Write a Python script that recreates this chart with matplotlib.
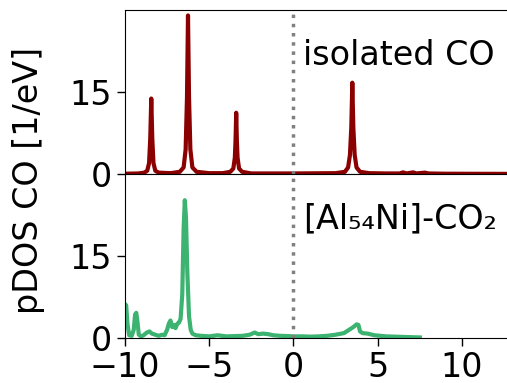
import matplotlib
matplotlib.use("Agg")
import matplotlib.pyplot as plt

# Projected density of states on CO, isolated molecule (energy in eV, pDOS in 1/eV)
iso_energy = [-10.0, -9.2, -8.85, -8.68, -8.57, -8.5, -8.44, -8.38, -8.31, -8.2, -8.0,
              -7.3, -6.75, -6.52, -6.4, -6.32, -6.26, -6.2, -6.12, -6.0, -5.75,
              -5.0, -4.2, -3.75, -3.57, -3.48, -3.44, -3.4, -3.36, -3.32, -3.23, -3.05,
              -2.5, 0.0, 2.5, 3.05, 3.24, 3.35, 3.43, 3.49, 3.55, 3.63, 3.74, 3.95,
              4.5, 5.5, 6.3, 6.5, 6.7, 7.1, 7.3, 7.8, 8.0, 9.0, 13.0]
iso_pdos = [0.05, 0.1, 0.25, 0.6, 2.0, 6.5, 13.8, 6.5, 2.0, 0.6, 0.25,
            0.15, 0.4, 1.2, 4.5, 14.0, 29.0, 14.0, 4.5, 1.2, 0.4,
            0.15, 0.15, 0.4, 1.0, 3.0, 6.0, 11.2, 6.0, 3.0, 1.0, 0.4,
            0.1, 0.1, 0.15, 0.4, 1.2, 3.5, 8.5, 16.7, 8.5, 3.5, 1.2, 0.4,
            0.15, 0.1, 0.1, 0.3, 0.1, 0.3, 0.1, 0.25, 0.1, 0.05, 0.02]

# Projected density of states on CO for CO2 adsorbed on the Al54Ni cluster
ads_energy = [-10.0, -9.93, -9.85, -9.75, -9.6, -9.48, -9.4, -9.33, -9.26, -9.18, -9.05,
              -8.9, -8.7, -8.55, -8.4, -8.2, -8.0, -7.8, -7.65, -7.5, -7.4, -7.3,
              -7.2, -7.1, -7.0, -6.9, -6.8, -6.7, -6.6, -6.52, -6.45, -6.38, -6.3,
              -6.2, -6.1, -6.0, -5.8, -5.5, -5.0, -4.5, -4.0, -3.5, -3.0, -2.6,
              -2.3, -2.1, -1.8, -1.5, -1.2, -0.8, -0.3, 0.0, 0.5, 1.0, 1.5, 2.0,
              2.5, 3.0, 3.3, 3.55, 3.75, 3.85, 3.95, 4.1, 4.4, 4.8, 5.5, 6.5, 7.5]
ads_pdos = [6.2, 6.0, 2.5, 0.5, 0.4, 1.5, 4.3, 4.6, 3.0, 0.6, 0.3,
            0.5, 1.0, 1.2, 0.8, 0.6, 0.4, 0.6, 0.5, 1.5, 2.6, 3.2,
            2.0, 2.4, 1.8, 2.6, 2.8, 3.5, 8.0, 20.0, 25.2, 22.0, 12.0,
            4.0, 1.5, 0.8, 0.5, 0.4, 0.3, 0.5, 0.3, 0.35, 0.4, 0.6,
            1.0, 0.7, 0.8, 0.7, 0.5, 0.4, 0.35, 0.3, 0.3, 0.25, 0.3, 0.4,
            0.6, 0.9, 1.5, 2.0, 2.5, 2.4, 1.2, 0.9, 0.8, 0.5, 0.3, 0.2, 0.1]

panel_labels = ["isolated CO", "[Al₅₄Ni]-CO₂"]
y_ticks = [0, 15]
x_ticks = [-10, -5, 0, 5, 10]

plt.rcParams["font.family"] = "DejaVu Sans"
plt.rcParams["font.size"] = 24

fig = plt.figure(figsize=(5.07, 3.83), dpi=100)
ax_top = fig.add_axes([0.2465, 0.5457, 0.7645, 0.4283])
ax_bot = fig.add_axes([0.2465, 0.1175, 0.7645, 0.4282], sharex=ax_top)

ax_top.plot(iso_energy, iso_pdos, color="#8b0000", lw=3)
ax_bot.plot(ads_energy, ads_pdos, color="#3cb371", lw=3)

for ax, label in zip([ax_top, ax_bot], panel_labels):
    ax.axvline(0, color="gray", ls=":", lw=2.5)
    ax.set_ylim(0, 30)
    ax.set_yticks(y_ticks)
    ax.text(0.55, 20, label, fontsize=24, va="baseline", ha="left")
    ax.tick_params(labelsize=24, width=1, length=6)

ax_top.set_xlim(-10, 13)
ax_bot.set_xticks(x_ticks)
ax_top.tick_params(axis="x", length=0, labelbottom=False)

fig.text(0.057, 0.53, "pDOS CO [1/eV]", rotation=90, fontsize=24,
         va="center", ha="center")

fig.savefig("out.png", dpi=100)
